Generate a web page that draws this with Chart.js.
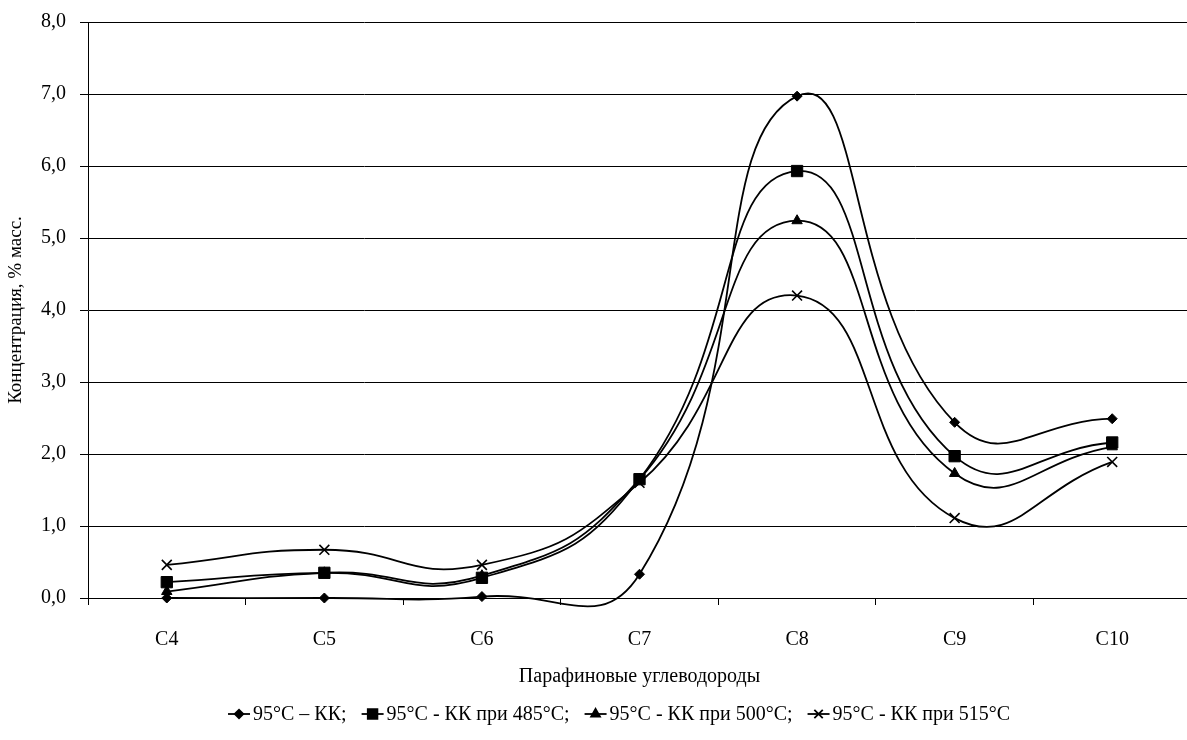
<!DOCTYPE html>
<html>
<head>
<meta charset="utf-8">
<script src="https://cdn.jsdelivr.net/npm/chart.js@4/dist/chart.umd.min.js"></script>
<style>
  html, body { margin: 0; padding: 0; background: #fff; overflow: hidden; }
  #wrap { width: 1187px; height: 740px; overflow: hidden; }
</style>
</head>
<body>
<div id="wrap"><canvas id="chart" width="1200" height="740"></canvas></div>
<script>
// Data
const categories = ['C4', 'C5', 'C6', 'C7', 'C8', 'C9', 'C10'];
const seriesNames = ['95°C – КК;', '95°C - КК при 485°C;', '95°C - КК при 500°C;', '95°C - КК при 515°C'];
const kk = [0.0, 0.0, 0.02, 0.33, 6.97, 2.44, 2.49];
const kk485 = [0.22, 0.35, 0.28, 1.65, 5.93, 1.97, 2.16];
const kk500 = [0.09, 0.35, 0.31, 1.65, 5.24, 1.73, 2.10];
const kk515 = [0.46, 0.67, 0.46, 1.60, 4.20, 1.11, 1.89];
const markers = ['rectRot', 'rect', 'triangle', 'crossRot'];
const markerSizes = [5, 8, 6, 7];

const FONT = "'Liberation Serif', 'Times New Roman', serif";

function makeSet(i, values) {
    return {
        label: seriesNames[i],
        data: values,
        borderColor: '#000',
        backgroundColor: '#000',
        borderWidth: 1.8,
        pointStyle: markers[i],
        pointRadius: markerSizes[i],
        pointBorderWidth: markers[i] === 'crossRot' ? 1.6 : 1,
        pointBorderColor: '#000',
        pointBackgroundColor: '#000',
        tension: 0.5,
        capBezierPoints: false,
        clip: false,
        fill: false
    };
}

// Legend drawn as line + marker, like the original
const lineLegend = {
    id: 'lineLegend',
    afterDraw(chart) {
        const ctx = chart.ctx;
        ctx.save();
        ctx.font = '20px ' + FONT;
        ctx.fillStyle = '#000';
        ctx.textBaseline = 'middle';
        const sets = chart.data.datasets;
        const lineW = 22, gapText = 3, gapItem = 15;
        let total = 0;
        sets.forEach(ds => { total += lineW + gapText + ctx.measureText(ds.label).width + gapItem; });
        total -= gapItem;
        let x = 619 - total / 2;
        const y = 714;
        sets.forEach((ds, i) => {
            ctx.strokeStyle = '#000';
            ctx.lineWidth = 1.8;
            ctx.beginPath();
            ctx.moveTo(x, y);
            ctx.lineTo(x + lineW, y);
            ctx.stroke();
            Chart.helpers.drawPoint(ctx, {
                pointStyle: ds.pointStyle,
                radius: ds.pointRadius * 0.85,
                borderWidth: ds.pointBorderWidth,
                rotation: 0
            }, x + lineW / 2, y);
            ctx.fillStyle = '#000';
            ctx.fillText(ds.label, x + lineW + gapText, y + 1);
            x += lineW + gapText + ctx.measureText(ds.label).width + gapItem;
        });
        ctx.restore();
    }
};

new Chart(document.getElementById('chart'), {
    type: 'line',
    data: {
        labels: categories,
        datasets: [makeSet(0, kk), makeSet(1, kk485), makeSet(2, kk500), makeSet(3, kk515)]
    },
    options: {
        responsive: false,
        animation: false,
        devicePixelRatio: 1,
        layout: { padding: { top: 22, right: 4, bottom: 42, left: 0 } },
        plugins: {
            legend: { display: false },
            tooltip: { enabled: false }
        },
        scales: {
            x: {
                offset: true,
                grid: { offset: true, drawOnChartArea: false, drawTicks: true, tickLength: 7, color: '#000' },
                border: { color: '#000', width: 1 },
                ticks: { color: '#000', padding: 23, font: { family: FONT, size: 20 } },
                title: {
                    display: true,
                    text: 'Парафиновые углеводороды',
                    color: '#000',
                    font: { family: FONT, size: 20 },
                    padding: { top: 0, bottom: 9 }
                },
                afterFit: s => { s.height = 100; }
            },
            y: {
                min: 0,
                max: 8,
                grid: { color: '#000', lineWidth: 1, tickLength: 8 },
                border: { color: '#000', width: 1 },
                ticks: {
                    stepSize: 1,
                    color: '#000',
                    padding: 14,
                    font: { family: FONT, size: 20 },
                    callback: v => v.toFixed(1).replace('.', ',')
                },
                title: {
                    display: true,
                    text: 'Концентрация, % масс.',
                    color: '#000',
                    font: { family: FONT, size: 19 },
                    padding: { top: 5, bottom: 0 }
                },
                afterFit: s => { s.width = 88; s.paddingTop = 0; s.paddingBottom = 0; }
            }
        }
    },
    plugins: [lineLegend]
});
</script>
</body>
</html>
